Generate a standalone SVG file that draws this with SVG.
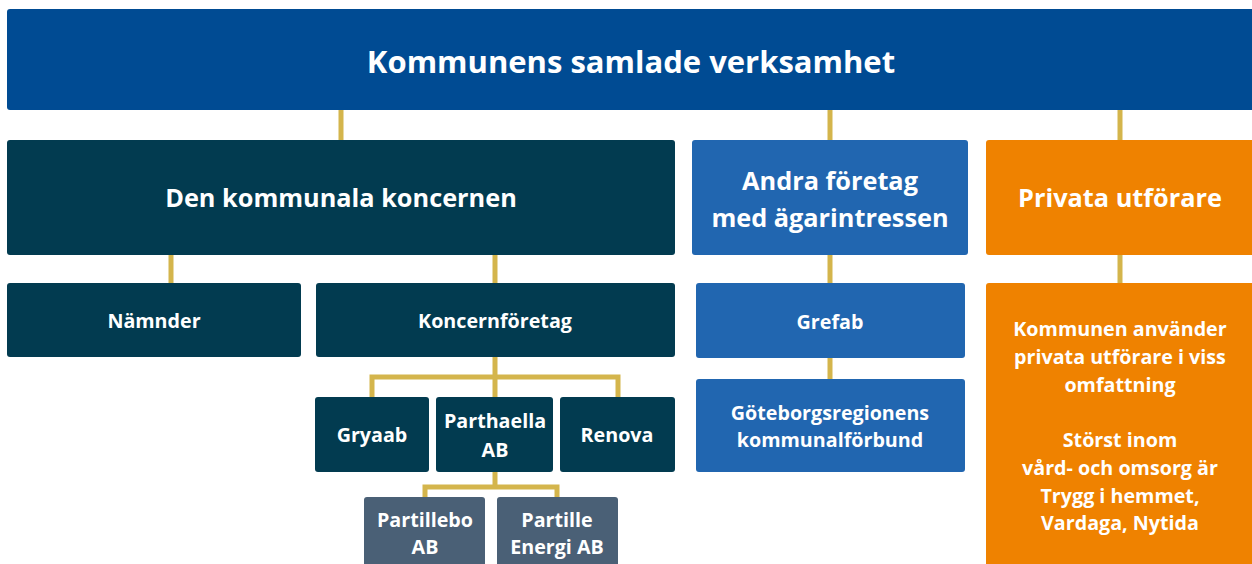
<svg xmlns="http://www.w3.org/2000/svg" width="1252" height="564" viewBox="0 0 1252 564">
<style>
text{font-family:"Open Sans","Liberation Sans",sans-serif;font-weight:700;fill:#fff;text-anchor:middle}
.t1{font-size:31px}
.t2{font-size:25.3px}
.t3{font-size:19.7px}
.top{fill:#004B93}
.dk{fill:#023B50}
.bl{fill:#2166B0}
.or{fill:#EF8200}
.gr{fill:#4A6076}
.con{stroke:#D4B54C;stroke-width:5;fill:none}
</style>
<rect width="1252" height="564" fill="#fff"/>
<g id="connectors">
<path class="con" d="M341 110V140M830 110V140M1120 110V140"/>
<path class="con" d="M171 255V283M495 255V283"/>
<path class="con" d="M830 255V283M830 357V379M1120 255V283"/>
<path class="con" d="M495 357V397M372 397V377H618V397"/>
<path class="con" d="M495 472V487M425 497V487H557V497"/>
</g>
<g id="n-top"><rect class="top" x="7" y="9" width="1250" height="101" rx="3"/><text class="t1" x="631" y="73">Kommunens samlade verksamhet</text></g>
<g id="n-koncernen"><rect class="dk" x="7" y="140" width="668" height="115" rx="3"/><text class="t2" x="341" y="207">Den kommunala koncernen</text></g>
<g id="n-andra"><rect class="bl" x="692" y="140" width="276" height="115" rx="3"/><text class="t2" x="830" y="190">Andra företag</text><text class="t2" x="830" y="227">med ägarintressen</text></g>
<g id="n-privata"><rect class="or" x="986" y="140" width="270" height="115" rx="3"/><text class="t2" x="1120" y="207">Privata utförare</text></g>
<g id="n-namnder"><rect class="dk" x="7" y="283" width="294" height="74" rx="3"/><text class="t3" x="154" y="328">Nämnder</text></g>
<g id="n-koncernforetag"><rect class="dk" x="316" y="283" width="359" height="74" rx="3"/><text class="t3" x="495" y="328">Koncernföretag</text></g>
<g id="n-grefab"><rect class="bl" x="696" y="283" width="269" height="75" rx="3"/><text class="t3" x="830" y="329">Grefab</text></g>
<g id="n-gr"><rect class="bl" x="696" y="379" width="269" height="93" rx="3"/><text class="t3" x="830" y="420">Göteborgsregionens</text><text class="t3" x="830" y="447">kommunalförbund</text></g>
<g id="n-privata-info"><rect class="or" x="986" y="283" width="270" height="290" rx="3"/>
<text class="t3" x="1120" y="336">Kommunen använder</text>
<text class="t3" x="1120" y="364">privata utförare i viss</text>
<text class="t3" x="1120" y="392">omfattning</text>
<text class="t3" x="1120" y="447">Störst inom</text>
<text class="t3" x="1120" y="475">vård- och omsorg är</text>
<text class="t3" x="1120" y="503">Trygg i hemmet,</text>
<text class="t3" x="1120" y="530">Vardaga, Nytida</text></g>
<g id="n-gryaab"><rect class="dk" x="315" y="397" width="114" height="75" rx="3"/><text class="t3" x="372" y="442">Gryaab</text></g>
<g id="n-parthaella"><rect class="dk" x="436" y="397" width="117" height="75" rx="3"/><text class="t3" x="495" y="428">Parthaella</text><text class="t3" x="495" y="457">AB</text></g>
<g id="n-renova"><rect class="dk" x="560" y="397" width="115" height="75" rx="3"/><text class="t3" x="617" y="442">Renova</text></g>
<g id="n-partillebo"><rect class="gr" x="364" y="497" width="121" height="75" rx="3"/><text class="t3" x="425" y="527">Partillebo</text><text class="t3" x="425" y="554">AB</text></g>
<g id="n-partille-energi"><rect class="gr" x="497" y="497" width="121" height="75" rx="3"/><text class="t3" x="557" y="527">Partille</text><text class="t3" x="557" y="554">Energi AB</text></g>
</svg>
